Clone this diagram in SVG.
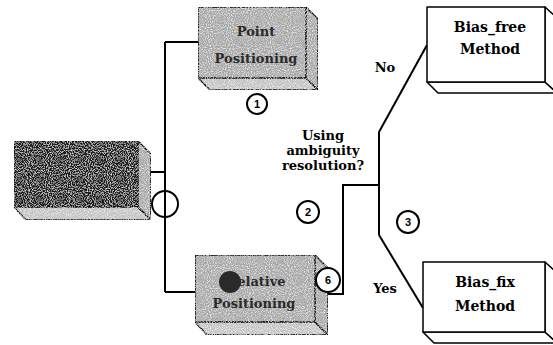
<svg xmlns="http://www.w3.org/2000/svg" width="553" height="345" viewBox="0 0 553 345">
<style>
.edge{fill:none;stroke:#000;stroke-width:2}
.face{stroke:#000;stroke-width:1.5;stroke-linejoin:round}
.gray{fill:#a9a9a9}
.lgray{fill:#c4c4c4}
.dark{fill:#1c1c1c}
.white{fill:#fff}
.lbl{font-family:"DejaVu Serif","Liberation Serif",serif;font-weight:bold;font-size:13px;fill:#000;text-anchor:middle}
.big{font-size:14px}
.blbl{font-family:"DejaVu Serif","Liberation Serif",serif;font-weight:bold;font-size:13px;fill:#2a2a2a;text-anchor:middle}
.num{font-family:"Liberation Sans",Arial,sans-serif;font-weight:bold;font-size:11px;text-anchor:middle;fill:#000}
.circ{fill:#fff;stroke:#000;stroke-width:2}
</style>
<defs>
<filter id="grain" x="0" y="0" width="1" height="1">
<feTurbulence type="fractalNoise" baseFrequency="0.95" numOctaves="1" seed="3" result="n"/>
<feColorMatrix in="n" type="matrix" values="0 0 0 0 1  0 0 0 0 1  0 0 0 0 1  0 0 0 2.2 -1.0" result="w"/>
<feComposite in="w" in2="SourceGraphic" operator="in" result="wm"/>
<feMerge><feMergeNode in="SourceGraphic"/><feMergeNode in="wm"/></feMerge>
</filter>
</defs>
<rect width="553" height="345" fill="#fff"/>

<g id="connectors" class="edge">
<line x1="165" y1="42" x2="165" y2="292"/>
<line x1="165" y1="42" x2="198" y2="42"/>
<line x1="151" y1="172" x2="165" y2="172"/>
<line x1="165" y1="292" x2="195" y2="292"/>
<polyline points="328,294 343,294 343,185 379,185"/>
<line x1="379" y1="132" x2="379" y2="235"/>
<line x1="379" y1="132" x2="427" y2="45"/>
<line x1="379" y1="235" x2="423" y2="308"/>
</g>

<g id="positioning">
<polygon class="face lgray" filter="url(#grain)" points="14,207 26,220 151,220 138,207"/>
<polygon class="face gray" filter="url(#grain)" points="138,141 151,154 151,220 138,207"/>
<rect class="face dark" filter="url(#grain)" x="14" y="141" width="124" height="66"/>
</g>

<g id="point-positioning">
<polygon class="face lgray" filter="url(#grain)" points="198,78 210,90 318,90 306,78"/>
<polygon class="face gray" filter="url(#grain)" points="306,7 318,19 318,90 306,78"/>
<rect class="face gray" filter="url(#grain)" x="198" y="7" width="108" height="71"/>
<text class="blbl" x="256" y="36">Point</text>
<text class="blbl" x="256" y="63">Positioning</text>
</g>

<g id="relative-positioning">
<polygon class="face lgray" filter="url(#grain)" points="195,322 207,335 328,335 315,322"/>
<polygon class="face gray" filter="url(#grain)" points="315,255 328,268 328,335 315,322"/>
<rect class="face gray" filter="url(#grain)" x="195" y="255" width="120" height="67"/>
<circle cx="230" cy="282" r="11" fill="#2a2a2a"/>
<text class="blbl" x="256" y="286">Relative</text>
<text class="blbl" x="254" y="308">Positioning</text>
</g>

<g id="bias-free">
<polygon class="face white" points="427,82 438,93 557,93 545,82"/>
<polygon class="face white" points="545,7 557,18 557,93 545,82"/>
<rect class="face white" x="427" y="7" width="118" height="75"/>
<text class="lbl big" x="490" y="32">Bias_free</text>
<text class="lbl big" x="490" y="54">Method</text>
</g>

<g id="bias-fix">
<polygon class="face white" points="423,332 434,343 557,343 545,332"/>
<polygon class="face white" points="545,262 557,273 557,343 545,332"/>
<rect class="face white" x="423" y="262" width="122" height="70"/>
<text class="lbl big" x="485" y="287">Bias_fix</text>
<text class="lbl big" x="485" y="311">Method</text>
</g>

<g id="decision">
<text class="lbl" x="323" y="140">Using</text>
<text class="lbl" x="323" y="155">ambiguity</text>
<text class="lbl" x="323" y="170">resolution?</text>
</g>

<g id="labels">
<text class="lbl" x="385" y="72">No</text>
<text class="lbl" x="385" y="293">Yes</text>
</g>

<g id="markers">
<circle cx="165" cy="204" r="13" fill="none" stroke="#000" stroke-width="2"/>
<circle class="circ" cx="257" cy="104" r="10"/><text class="num" x="257" y="108">1</text>
<circle class="circ" cx="308" cy="212" r="11"/><text class="num" x="308" y="216">2</text>
<circle class="circ" cx="408" cy="222" r="11"/><text class="num" x="408" y="226">3</text>
<circle class="circ" cx="328" cy="280" r="12"/><text class="num" x="328" y="284">6</text>
</g>
</svg>
